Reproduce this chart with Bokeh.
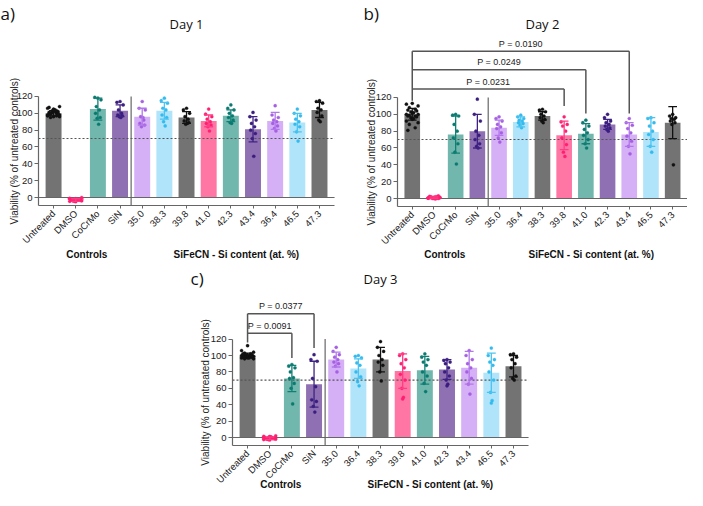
import math
from bokeh.plotting import figure
from bokeh.layouts import column, row
from bokeh.models import FixedTicker, Range1d, Label, Spacer
from bokeh.embed import file_html
from bokeh.resources import INLINE

# ---------------- data ----------------
labels_a = ["Untreated", "DMSO", "CoCrMo", "SiN", "35.0", "38.3", "39.8", "41.0",
            "42.3", "43.4", "36.4", "46.5", "47.3"]
labels_bc = ["Untreated", "DMSO", "CoCrMo", "SiN", "35.0", "36.4", "38.3", "39.8",
             "41.0", "42.3", "43.4", "46.5", "47.3"]
group_colors = ["gray", "pink", "teal", "purple", "lav", "blue", "gray", "pink",
                "teal", "purple", "lav", "blue", "gray"]
group_titles = ["Controls", "SiFeCN - Si content (at. %)"]
group_centers = [1.5, 8.25]
y_ticks = [0, 20, 40, 60, 80, 100, 120]
threshold = 70

a_mean = [100, -3, 105, 103, 96, 103, 95, 91, 97, 81, 91, 89, 104]
a_sd = [3, 1.5, 13, 7, 10, 10, 7, 7, 7, 15, 10, 11, 9]
a_pts = [
    [96, 97, 98, 99, 100, 101, 102, 103, 104, 105, 106, 108, 95, 97, 99, 100, 101, 102, 104, 98, 96, 100, 103, 107],
    [-5, -4.5, -4, -3.5, -3, -3, -2.5, -2, -2, -1.5, -1, 0, -4, -3, -2, -3.5, -4.5, -2.5, -3, -1.5],
    [118, 119, 116, 108, 104, 100, 95, 94, 87],
    [114, 113, 110, 104, 100, 98, 97, 96, 95],
    [114, 106, 104, 96, 92, 88, 86, 84, 95],
    [118, 115, 112, 106, 104, 98, 95, 90, 85],
    [106, 104, 100, 96, 93, 91, 89, 87, 88],
    [105, 99, 96, 93, 90, 88, 86, 84, 79],
    [110, 106, 104, 100, 97, 95, 92, 89, 88],
    [101, 96, 92, 88, 84, 80, 76, 70, 49],
    [109, 98, 95, 92, 90, 88, 85, 82, 79],
    [105, 100, 97, 93, 90, 87, 84, 78, 67],
    [115, 114, 112, 106, 104, 101, 97, 92, 90],
]

b_mean = [100, 1, 76, 80, 84, 91, 98, 75, 77, 88, 76, 79, 90]
b_sd = [7, 1, 22, 20, 9, 6, 5, 17, 12, 6, 14, 17, 19]
b_pts = [
    [113, 112, 110, 108, 106, 105, 104, 103, 102, 101, 100, 100, 99, 98, 98, 97, 96, 95, 94, 92, 90, 88, 84, 81],
    [0, 0.5, 1, 1.5, 2, 2.5, 3, 0, -0.5, 1, 0.5, 1.5, 2, 0.5, 1, 0, 1, 2, 1.5, 0.5],
    [100, 99, 98, 88, 80, 72, 65, 55, 41],
    [118, 100, 92, 80, 75, 70, 65, 62, 60],
    [97, 95, 92, 88, 85, 83, 78, 72, 67],
    [99, 97, 95, 93, 92, 90, 89, 87, 84],
    [106, 105, 103, 100, 98, 96, 94, 92, 90],
    [97, 91, 88, 86, 80, 72, 64, 55, 50],
    [93, 90, 86, 82, 78, 75, 70, 65, 60],
    [100, 96, 92, 90, 88, 86, 84, 82, 80],
    [95, 90, 87, 83, 78, 74, 68, 62, 53],
    [96, 95, 90, 86, 80, 76, 70, 62, 55],
    [100, 98, 96, 95, 94, 92, 90, 88, 40],
]
b_targets = [7, 8, 10]
b_bracket_y = [130, 153, 175]
b_drop_end = [110, 101, 101]
b_pvals = ["P = 0.0231", "P = 0.0249", "P = 0.0190"]

c_mean = [100, -1, 72, 65, 95, 84, 95, 81, 82, 83, 85, 79, 87]
c_sd = [3, 1.5, 16, 28, 9, 12, 15, 21, 17, 12, 20, 24, 13]
c_pts = [
    [112, 106, 104, 103, 102, 102, 101, 101, 100, 100, 100, 99, 99, 99, 98, 98, 98, 97, 97, 97, 96, 96, 100, 101],
    [-3, -2.5, -2, -1.5, -1, -1, -0.5, 0, 0.5, 1, 1.5, 2, -2, -1, 0, -1.5, -2.5, 0.5, 1, -0.5],
    [89, 87, 85, 80, 73, 72, 66, 60, 41],
    [101, 95, 93, 72, 62, 46, 44, 38, 31],
    [110, 105, 101, 98, 95, 92, 90, 87, 80],
    [100, 99, 97, 91, 88, 80, 74, 68, 63],
    [117, 110, 105, 100, 95, 92, 88, 80, 69],
    [102, 100, 95, 90, 85, 77, 70, 60, 49, 47],
    [102, 98, 95, 92, 88, 80, 75, 66, 56],
    [95, 94, 92, 90, 85, 80, 75, 70, 65, 63],
    [106, 100, 95, 90, 85, 80, 72, 65, 53],
    [109, 100, 95, 92, 88, 80, 70, 55, 45, 42],
    [102, 101, 98, 95, 90, 85, 75, 72, 70],
]
c_targets = [2, 3]
c_bracket_y = [127, 151]
c_drop_end = [97, 109]
c_pvals = ["P = 0.0091", "P = 0.0377"]

# ---------------- styles ----------------
BAR = {"gray": "#737373", "pink": "#ff76a5", "teal": "#72b7ad", "purple": "#8e70b3",
       "lav": "#d5b0f6", "blue": "#b0e4fa"}
PT = {"gray": "#111111", "pink": "#ff1f72", "teal": "#0a7a70", "purple": "#3a1d7e",
      "lav": "#a55fe2", "blue": "#33bbef"}
ERR = {"gray": "#111111", "pink": "#ff3d84", "teal": "#127f74", "purple": "#3f2383",
       "lav": "#b277ea", "blue": "#4cc3f0"}
FONT = "Liberation Sans"
TFONT = "Open Sans"
X0, X1 = -0.68, 12.68
PAT = [0, -1, 1, -0.5, 0.5, -0.75, 0.75, -0.25, 0.25]
AXC = "#666666"


def make_panel(labels, means, sds, pts, W, H, ox, ppu, oy, ppy,
               letter, letter_xy, title, title_y, ylab_x, group_y,
               brackets=None):
    xs0 = X0 - ox / ppu
    xe0 = xs0 + W / ppu
    ye0 = oy / ppy
    ys0 = -(H - oy) / ppy

    def dx(px):
        return xs0 + px / ppu

    def dy(py):
        return (oy - py) / ppy

    p = figure(width=W, height=H, x_range=Range1d(xs0, xe0),
               y_range=Range1d(ys0, ye0), output_backend="svg",
               toolbar_location=None, min_border_left=0, min_border_right=0,
               min_border_top=0, min_border_bottom=0)
    p.outline_line_color = None
    p.grid.visible = False
    p.background_fill_color = "white"
    p.border_fill_color = "white"

    n = len(labels)
    xs = list(range(n))
    bar_cols = [BAR[g] for g in group_colors]
    p.vbar(x=xs, top=means, bottom=0, width=0.72, fill_color=bar_cols,
           line_color=None)
    p.segment(x0=[X0], y0=[0], x1=[X1], y1=[0], line_color=AXC, line_width=1.2)
    p.segment(x0=[X0], y0=[threshold], x1=[X1], y1=[threshold], line_color="#555555",
              line_width=1.1, line_dash="2 2")
    p.segment(x0=[3.5], y0=[-10], x1=[3.5], y1=[120], line_color=AXC, line_width=1.2)

    # points
    px, py, pc = [], [], []
    for i, vals in enumerate(pts):
        spread = 0.27 if len(vals) > 15 else 0.14
        for k, v in enumerate(vals):
            px.append(i + PAT[k % len(PAT)] * spread)
            py.append(v)
            pc.append(PT[group_colors[i]])
    p.scatter(x=px, y=py, size=3.2, fill_color=pc, line_color=pc, line_width=0.3)

    # error bars
    ec = [ERR[g] for g in group_colors]
    lo = [m - s for m, s in zip(means, sds)]
    hi = [m + s for m, s in zip(means, sds)]
    p.segment(x0=xs, y0=lo, x1=xs, y1=hi, line_color=ec, line_width=1.3)
    p.segment(x0=[x - 0.2 for x in xs], y0=hi, x1=[x + 0.2 for x in xs], y1=hi,
              line_color=ec, line_width=1.3)
    p.segment(x0=[x - 0.2 for x in xs], y0=lo, x1=[x + 0.2 for x in xs], y1=lo,
              line_color=ec, line_width=1.3)

    # axes drawn at fixed data locations inside the full-canvas frame
    xa = p.xaxis[0]
    xa.fixed_location = -10
    xa.bounds = (X0, X1)
    xa.ticker = FixedTicker(ticks=xs, minor_ticks=[])
    xa.major_label_overrides = {i: lab for i, lab in enumerate(labels)}
    xa.major_label_orientation = math.pi / 4
    xa.major_label_text_font = FONT
    xa.major_label_text_font_size = "9.5px"
    xa.major_label_text_color = "#222222"
    xa.major_label_standoff = 3
    xa.axis_line_color = AXC
    xa.axis_line_width = 1.2
    xa.major_tick_line_color = AXC
    xa.major_tick_out = 3
    xa.major_tick_in = 0

    ya = p.yaxis[0]
    ya.fixed_location = X0
    ya.ticker = FixedTicker(ticks=y_ticks, minor_ticks=[])
    ya.bounds = (-10, 120)
    ya.major_label_text_font = FONT
    ya.major_label_text_font_size = "9.5px"
    ya.major_label_text_color = "#222222"
    ya.major_label_standoff = 2
    ya.axis_line_color = AXC
    ya.axis_line_width = 1.2
    ya.major_tick_line_color = AXC
    ya.major_tick_out = 4
    ya.major_tick_in = 0

    for gx, gt in zip(group_centers, group_titles):
        p.add_layout(Label(x=gx, y=dy(group_y), text=gt, text_align="center",
                           text_baseline="middle", text_font=FONT,
                           text_font_style="bold", text_font_size="10px",
                           text_color="#111111"))

    p.add_layout(Label(x=dx(ylab_x), y=55, text="Viability (% of untreated controls)",
                       angle=math.pi / 2, text_align="center", text_baseline="middle",
                       text_font=FONT, text_font_size="10px", text_color="#222222"))
    p.add_layout(Label(x=6, y=dy(title_y), text=title, text_align="center",
                       text_baseline="middle", text_font=TFONT, text_font_size="13px",
                       text_color="#111111"))
    p.add_layout(Label(x=dx(letter_xy[0]), y=dy(letter_xy[1]), text=letter,
                       text_align="left", text_baseline="middle", text_font=TFONT,
                       text_font_size="17px", text_color="#111111"))

    if brackets:
        targets, by, dropend, pv = brackets
        top = max(by)
        p.segment(x0=[0], y0=[top], x1=[0], y1=[means[0] + 16], line_color="#555555",
                  line_width=1.5)
        for t, yb, de, txt in zip(targets, by, dropend, pv):
            p.segment(x0=[0], y0=[yb], x1=[t], y1=[yb], line_color="#555555", line_width=1.5)
            p.segment(x0=[t], y0=[yb], x1=[t], y1=[de], line_color="#555555", line_width=1.5)
            p.add_layout(Label(x=t / 2.0, y=yb + 3, text=txt, text_align="center",
                               text_baseline="bottom", text_font=FONT,
                               text_font_size="9px", text_color="#222222"))
    return p


TOP_H = 260
BOT_H = 230
pa = make_panel(labels_a, a_mean, a_sd, a_pts, 352, TOP_H, 38, 22.16, 197, 0.842,
                "a)", (0, 13), "Day 1", 23, 14, 254)
pb = make_panel(labels_bc, b_mean, b_sd, b_pts, 335, TOP_H, 45, 21.7, 198, 0.842,
                "b)", (11, 13), "Day 2", 23, 19, 254,
                brackets=(b_targets, b_bracket_y, b_drop_end, b_pvals))
pc = make_panel(labels_bc, c_mean, c_sd, c_pts, 360, BOT_H, 52, 22.16, 177, 0.82,
                "c)", (10, 18), "Day 3", 18, 25, 224,
                brackets=(c_targets, c_bracket_y, c_drop_end, c_pvals))

layout = column(row(pa, pb), row(Spacer(width=180, height=BOT_H), pc))
open("out.html", "w").write(file_html(layout, INLINE))
